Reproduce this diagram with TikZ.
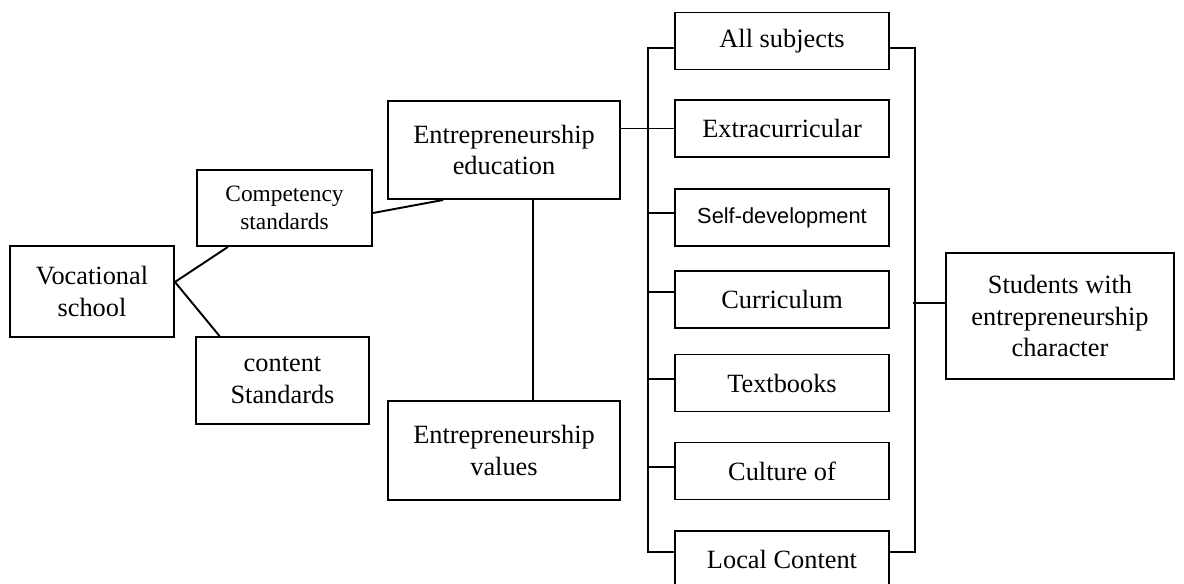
\documentclass[tikz,border=0pt]{standalone}
\usepackage{fontspec}
\setmainfont{Liberation Serif}
\newfontfamily\sansfnt{Liberation Sans}
\usetikzlibrary{calc}
\tikzset{
  box/.style={draw, line width=1.1pt, align=center, inner sep=2pt, font=\fontsize{15}{18}\selectfont},
  chan/.style={box, minimum width=4.28cm, minimum height=1.14cm},
  chansf/.style={chan, font=\sansfnt\fontsize{12.4}{15}\selectfont},
  wire/.style={line width=1.1pt},
}
\begin{document}
\begin{tikzpicture}[x=0.02cm, y=-0.02cm]
  \useasboundingbox (0,0) rectangle (1184,584);
  \node[box, minimum width=3.28cm, minimum height=1.82cm] (voc) at (92,291.5) {Vocational\\school};
  \node[box, minimum width=3.5cm, minimum height=1.52cm, font=\fontsize{13.3}{16}\selectfont] (comp) at (284.5,208) {Competency\\standards};
  \node[box, minimum width=3.46cm, minimum height=1.74cm] (cont) at (282.5,380.5) {content\\Standards};
  \node[box, minimum width=4.64cm, minimum height=1.96cm] (edu) at (504,150) {Entrepreneurship\\education};
  \node[box, minimum width=4.64cm, minimum height=1.98cm] (val) at (504,450.5) {Entrepreneurship\\values};
  \foreach \n/\y/\s/\t in {subj/41/chan/All subjects, extra/128.5/chan/Extracurricular,
      self/217.5/chansf/Self-development, curr/299.5/chan/Curriculum, book/383/chan/Textbooks,
      cult/471/chan/Culture of, local/559.5/chan/Local Content}
    \node[\s] (\n) at (782,\y) {\t};
  \node[box, minimum width=4.56cm, minimum height=2.52cm] (stud) at (1060,316) {Students with\\entrepreneurship\\character};
  % left branches
  \draw[wire] ($(voc.east)+(0,-9.5)$) coordinate (vj) -- ($(comp.south west)!0.18!(comp.south east)$);
  \draw[wire] (vj) -- ($(cont.north west)!0.14!(cont.north east)$);
  \draw[wire] ($(comp.east)+(0,5)$) -- ($(edu.south west)!0.24!(edu.south east)$);
  \draw[wire] ($(edu.south)+(29,0)$) -- ($(val.north)+(29,0)$);
  \draw[wire] (edu.east |- extra.west) -- (extra.west);
  % buses
  \draw[wire] ($(subj.west)+(0,7)$) -- ++(-26,0) |- ($(local.west)+(0,-7.5)$);
  \foreach \n/\d in {self/-4.5, curr/-7.5, book/-4, cult/-4}
    \draw[wire] ($(\n.west)+(0,\d)$) -- ++(-26,0);
  \draw[wire] ($(subj.east)+(0,7)$) -- ++(25,0) |- ($(local.east)+(0,-7.5)$);
  \draw[wire] ($(stud.west)+(0,-13)$) -- ++(-32,0);
\end{tikzpicture}
\end{document}
